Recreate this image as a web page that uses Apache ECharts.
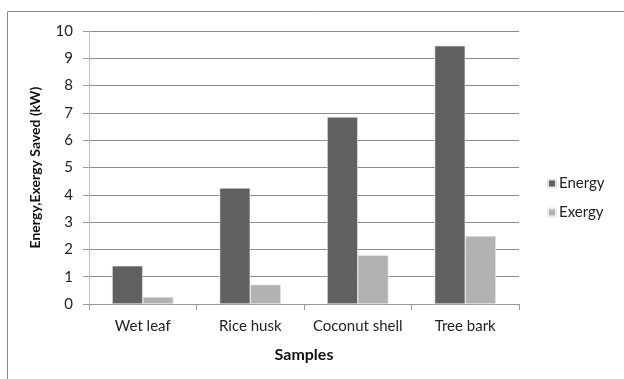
<!DOCTYPE html>
<html>
<head>
<meta charset="utf-8">
<style>
  html, body { margin: 0; padding: 0; background: #ffffff; }
  #chart { width: 624px; height: 379px; }
</style>
<script src="https://cdn.jsdelivr.net/npm/echarts@6/dist/echarts.min.js"></script>
</head>
<body>
<div id="chart"></div>
<script>
// Energy and exergy saved per biomass sample (kW)
const categories = ['Wet leaf', 'Rice husk', 'Coconut shell', 'Tree bark'];
const energyValues = [1.40, 4.25, 6.85, 9.46];
const exergyValues = [0.26, 0.71, 1.79, 2.49];
const yTicks = [0, 1, 2, 3, 4, 5, 6, 7, 8, 9, 10];

const FONT = 'Lato, "Open Sans", sans-serif';
const chart = echarts.init(document.getElementById('chart'), null, { renderer: 'canvas' });

chart.setOption({
  backgroundColor: '#ffffff',
  animation: false,
  textStyle: { fontFamily: FONT, color: '#222' },
  graphic: [{
    type: 'rect',
    shape: { x: 7.5, y: 11.5, width: 640, height: 400 },
    style: { fill: 'none', stroke: '#8a8a8a', lineWidth: 1 },
    silent: true
  }],
  grid: { left: 89, right: 105, top: 31, bottom: 75, containLabel: false },
  legend: {
    orient: 'vertical',
    left: 542,
    top: 171,
    itemWidth: 8,
    itemHeight: 8,
    itemGap: 14,
    icon: 'rect',
    textStyle: { fontFamily: FONT, fontSize: 15, color: '#222', padding: [0, 0, 0, -2] },
    data: ['Energy', 'Exergy']
  },
  xAxis: {
    type: 'category',
    data: categories,
    name: 'Samples',
    nameLocation: 'middle',
    nameGap: 43,
    nameTextStyle: { fontFamily: FONT, fontSize: 16, fontWeight: 'bold', color: '#111' },
    axisLine: { lineStyle: { color: '#9a9a9a', width: 1 } },
    axisTick: { show: true, length: 6, lineStyle: { color: '#9a9a9a' } },
    axisLabel: { interval: 0, fontFamily: FONT, fontSize: 15, color: '#222', margin: 15 },
    splitLine: { show: false }
  },
  yAxis: {
    type: 'value',
    min: yTicks[0],
    max: yTicks[yTicks.length - 1],
    interval: 1,
    name: 'Energy,Exergy Saved (kW)',
    nameLocation: 'middle',
    nameGap: 47,
    nameTextStyle: { fontFamily: FONT, fontSize: 14, fontWeight: 'bold', color: '#111' },
    axisLine: { show: true, lineStyle: { color: '#bdbdbd', width: 1 } },
    axisTick: { show: true, length: 6, lineStyle: { color: '#9a9a9a' } },
    axisLabel: { fontFamily: FONT, fontSize: 15, color: '#222', margin: 16 },
    splitLine: { show: true, lineStyle: { color: '#8c8c8c', width: 1 } }
  },
  series: [
    {
      name: 'Energy',
      type: 'bar',
      data: energyValues,
      barGap: '0%',
      barCategoryGap: '43%',
      itemStyle: { color: '#606060', borderColor: '#e6e6e6', borderWidth: 0.6 }
    },
    {
      name: 'Exergy',
      type: 'bar',
      data: exergyValues,
      barGap: '0%',
      barCategoryGap: '43%',
      itemStyle: { color: '#b2b2b2', borderColor: '#ececec', borderWidth: 0.6 }
    }
  ]
});
</script>
</body>
</html>
